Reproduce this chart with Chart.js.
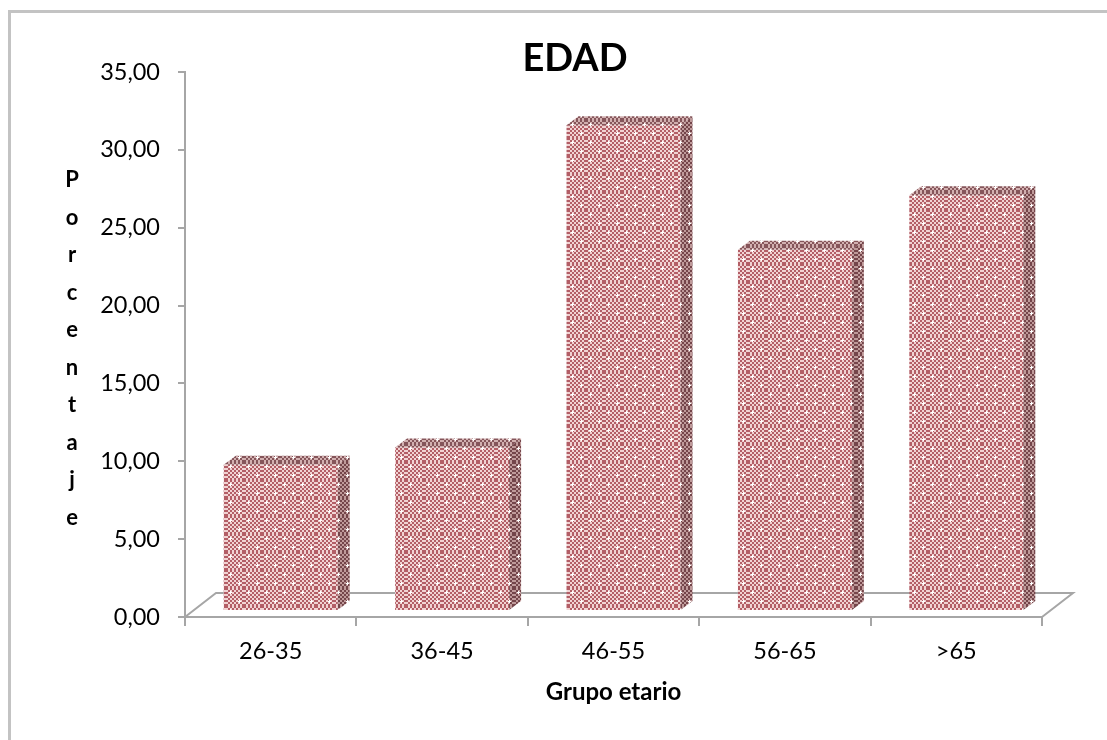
<!DOCTYPE html>
<html>
<head>
<meta charset="utf-8">
<script src="https://cdn.jsdelivr.net/npm/chart.js@4/dist/chart.umd.min.js"></script>
<style>
  html, body { margin: 0; padding: 0; background: #fff; overflow: hidden; }
  #frame {
    position: absolute; left: 8px; top: 10px; width: 1200px; height: 800px;
    border-left: 3px solid #c3c3c3; border-top: 3px solid #c3c3c3;
  }
  #wrap { position: absolute; left: 0; top: 0; width: 1107px; height: 740px; }
</style>
</head>
<body>
<div id="frame"></div>
<div id="wrap"><canvas id="c" width="1107" height="740"></canvas></div>
<script>
// Age groups and their share of the sample (%)
const categories = ['26-35', '36-45', '46-55', '56-65', '>65'];
const porcentaje = [9.4, 10.5, 31.2, 23.2, 26.7];
const yTickLabels = ['0,00', '5,00', '10,00', '15,00', '20,00', '25,00', '30,00', '35,00'];
const chartTitle = 'EDAD';
const yAxisTitle = 'Porcentaje';
const xAxisTitle = 'Grupo etario';

const FONT = 'Lato, "Open Sans", sans-serif';
const AXIS_GREY = '#a6a6a6';

// Checkered fabric-like fill with small white stars
function makeTile(light, dark) {
  const t = document.createElement('canvas');
  t.width = 18; t.height = 18;
  const g = t.getContext('2d');
  g.fillStyle = light; g.fillRect(0, 0, 18, 18);
  g.fillStyle = dark;
  for (let y = 0; y < 18; y += 2)
    for (let x = 0; x < 18; x += 2)
      if (((x + y) / 2) % 2 === 0) g.fillRect(x, y, 2, 2);
  g.fillStyle = '#fff';
  [[4, 4], [13, 13]].forEach(([x, y]) => {
    g.fillRect(x - 1, y, 3, 1);
    g.fillRect(x, y - 1, 1, 3);
  });
  return t;
}
const ctx = document.getElementById('c').getContext('2d');
const frontPattern = ctx.createPattern(makeTile('#f1d3d3', '#b35e66'), 'repeat');
const topPattern = ctx.createPattern(makeTile('#d2b0b0', '#85555a'), 'repeat');
const sidePattern = ctx.createPattern(makeTile('#bf9a9a', '#74454a'), 'repeat');

// Depth offsets of the pseudo-3D floor and columns
const FLOOR = { dx: 31, dy: -24 };
const SHIFT = { dx: 10, dy: -6 };
const FACE = { dx: 12, dy: -9 };

const bar3d = {
  id: 'bar3d',
  beforeDatasetsDraw(chart) {
    const { ctx, scales: { x, y } } = chart;
    const y0 = y.getPixelForValue(0);
    ctx.save();
    ctx.strokeStyle = AXIS_GREY;
    ctx.lineWidth = 2;
    ctx.beginPath();
    ctx.moveTo(x.left, y0);
    ctx.lineTo(x.left + FLOOR.dx, y0 + FLOOR.dy);
    ctx.lineTo(x.right + FLOOR.dx, y0 + FLOOR.dy);
    ctx.lineTo(x.right, y0);
    ctx.stroke();
    ctx.restore();
    ctx.save();
    ctx.translate(SHIFT.dx, SHIFT.dy);
  },
  afterDatasetsDraw(chart) {
    const ctx = chart.ctx;
    chart.getDatasetMeta(0).data.forEach(bar => {
      const { x, y, base, width } = bar.getProps(['x', 'y', 'base', 'width'], true);
      const l = x - width / 2, r = x + width / 2;
      ctx.beginPath();
      ctx.moveTo(l, y);
      ctx.lineTo(l + FACE.dx, y + FACE.dy);
      ctx.lineTo(r + FACE.dx, y + FACE.dy);
      ctx.lineTo(r, y);
      ctx.closePath();
      ctx.fillStyle = topPattern;
      ctx.fill();
      ctx.beginPath();
      ctx.moveTo(r, y);
      ctx.lineTo(r + FACE.dx, y + FACE.dy);
      ctx.lineTo(r + FACE.dx, base + FACE.dy);
      ctx.lineTo(r, base);
      ctx.closePath();
      ctx.fillStyle = sidePattern;
      ctx.fill();
    });
    ctx.restore();
  },
  afterDraw(chart) {
    const ctx = chart.ctx;
    ctx.save();
    ctx.fillStyle = '#000';
    ctx.textAlign = 'center';
    ctx.textBaseline = 'alphabetic';
    ctx.font = 'bold 38px ' + FONT;
    ctx.fillText(chartTitle, 575, 71);
    ctx.font = 'bold 22px ' + FONT;
    yAxisTitle.split('').forEach((ch, i) => {
      ctx.fillText(ch, 72, 187 + 37.5 * i);
    });
    ctx.restore();
  }
};

new Chart(ctx, {
  type: 'bar',
  data: {
    labels: categories,
    datasets: [{
      data: porcentaje,
      backgroundColor: frontPattern,
      borderWidth: 0,
      categoryPercentage: 1,
      barPercentage: 0.665
    }]
  },
  options: {
    responsive: false,
    animation: false,
    devicePixelRatio: 1,
    layout: { padding: { top: 72, right: 65, left: 0, bottom: 0 } },
    plugins: { legend: { display: false }, tooltip: { enabled: false }, title: { display: false } },
    scales: {
      x: {
        grid: { offset: true, drawOnChartArea: false, tickLength: 9, color: AXIS_GREY, lineWidth: 2 },
        border: { color: AXIS_GREY, width: 2 },
        ticks: { color: '#000', font: { family: FONT, size: 23.5 }, padding: 11, maxRotation: 0 },
        title: {
          display: true, text: xAxisTitle, color: '#000',
          font: { family: FONT, size: 24, weight: 'bold' },
          padding: { top: 4, bottom: 33 }
        },
        afterFit(s) { s.height = 740 - 617; }
      },
      y: {
        min: 0, max: 35,
        grid: { drawOnChartArea: false, tickLength: 7, color: AXIS_GREY, lineWidth: 2 },
        border: { color: AXIS_GREY, width: 2 },
        ticks: {
          stepSize: 5, color: '#000', padding: 18,
          font: { family: FONT, size: 23.5 },
          callback: (v) => yTickLabels[Math.round(v / 5)]
        },
        afterFit(s) { s.width = 185; }
      }
    }
  },
  plugins: [bar3d]
});
</script>
</body>
</html>
